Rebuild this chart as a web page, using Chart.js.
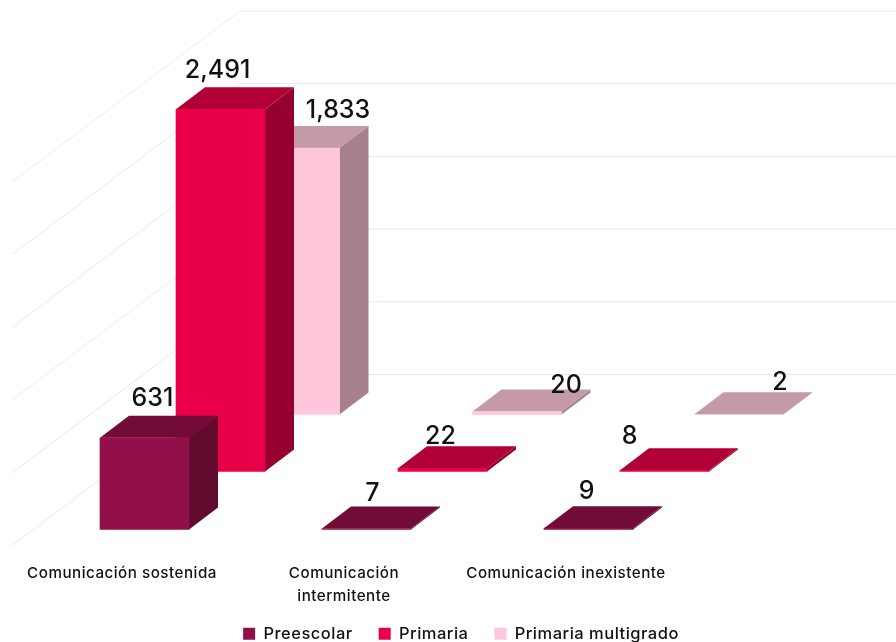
<!DOCTYPE html>
<html>
<head>
<meta charset="utf-8">
<title>Comunicación</title>
<script src="https://cdn.jsdelivr.net/npm/chart.js@4/dist/chart.umd.min.js"></script>
<style>
html, body { margin: 0; padding: 0; background: #fff; }
#wrap { width: 896px; height: 642px; }
</style>
</head>
<body>
<div id="wrap"><canvas id="chart" width="896" height="642"></canvas></div>
<script>
var categories = [['Comunicación sostenida'], ['Comunicación', 'intermitente'], ['Comunicación inexistente']];
var preescolar = [631, 7, 9];
var primaria = [2491, 22, 8];
var multigrado = [1833, 20, 2];
var valueTicks = [0, 500, 1000, 1500, 2000, 2500];

// front, top and side colour for each series
var faces = [
    { front: '#92104a', top: '#720c36', side: '#620a2e' },
    { front: '#ea0048', top: '#b00036', side: '#950030' },
    { front: '#ffc6dc', top: '#c49aa6', side: '#a6808c' }
];
var depthX = 29, depthY = 22;
var rowX = [22.5, 98.5, 173], rowY = [0, 58, 115];
// hand placed value labels, relative to the top of the front face
var labelNudge = [
    [[8, -39], [6, -35], [-2, -37]],
    [[-3, -39], [-2, -32], [-35, -34]],
    [[43, -37], [49, -26], [41, -32]]
];
var font = 'Inter';

class Bar3dController extends Chart.BarController {
    updateElements(bars, start, count, mode) {
        super.updateElements(bars, start, count, mode);
        var row = this.index;
        bars.forEach(function(bar) {
            bar.x += rowX[row];
            bar.y -= rowY[row];
            bar.base -= rowY[row];
        });
    }
    draw() {
        var ctx = this.chart.ctx;
        var face = faces[this.index];
        this.getMeta().data.forEach(function(bar) {
            var l = bar.x - bar.width / 2, r = bar.x + bar.width / 2;
            ctx.fillStyle = face.side;
            ctx.beginPath();
            ctx.moveTo(r, bar.y);
            ctx.lineTo(r + depthX, bar.y - depthY);
            ctx.lineTo(r + depthX, bar.base - depthY);
            ctx.lineTo(r, bar.base);
            ctx.closePath();
            ctx.fill();
            ctx.fillStyle = face.top;
            ctx.beginPath();
            ctx.moveTo(l, bar.y);
            ctx.lineTo(l + depthX, bar.y - depthY);
            ctx.lineTo(r + depthX, bar.y - depthY);
            ctx.lineTo(r, bar.y);
            ctx.closePath();
            ctx.fill();
        });
        super.draw();
    }
}
Bar3dController.id = 'bar3d';
Bar3dController.defaults = Chart.BarController.defaults;
Chart.register(Bar3dController);

var wallPlugin = {
    id: 'wall',
    beforeUpdate: function(chart) {
        // the reference font runs wider than Inter
        chart.ctx.letterSpacing = '0.5px';
    },
    afterLayout: function(chart) {
        // legend is centred on the page, not on the plot
        chart.legend.left += 5;
        chart.legend.right += 229;
        chart.legend.top += 10;
        chart.legend.bottom += 10;
        // tick labels are clipped to the scale box, let them run into the legend band
        chart.scales.x.bottom += 40;
    },
    beforeDatasetsDraw: function(chart) {
        var ctx = chart.ctx, y = chart.scales.y;
        ctx.save();
        ctx.strokeStyle = '#e9e9e9';
        ctx.lineWidth = 1;
        y.ticks.forEach(function(t) {
            var back = y.getPixelForValue(t.value) - 155;
            ctx.beginPath();
            ctx.moveTo(896, back);
            ctx.lineTo(240, back);
            ctx.lineTo(12, back + 171);
            ctx.stroke();
        });
        ctx.restore();
    },
    afterDatasetsDraw: function(chart) {
        var ctx = chart.ctx;
        ctx.save();
        ctx.letterSpacing = '0px';
        ctx.fillStyle = '#111';
        ctx.font = '500 25px ' + font;
        ctx.textAlign = 'center';
        ctx.textBaseline = 'middle';
        chart.data.datasets.forEach(function(ds, row) {
            chart.getDatasetMeta(row).data.forEach(function(bar, i) {
                var n = labelNudge[row][i];
                ctx.fillText(ds.data[i].toLocaleString('en-US'), bar.x + n[0], bar.y + n[1]);
            });
        });
        ctx.restore();
    }
};

var chart = new Chart(document.getElementById('chart'), {
    type: 'bar3d',
    data: {
        labels: categories,
        datasets: [
            { label: 'Preescolar', data: preescolar, backgroundColor: faces[0].front },
            { label: 'Primaria', data: primaria, backgroundColor: faces[1].front },
            { label: 'Primaria multigrado', data: multigrado, backgroundColor: faces[2].front }
        ]
    },
    plugins: [wallPlugin],
    options: {
        responsive: false,
        animation: false,
        clip: false,
        barThickness: 89,
        grouped: false,
        layout: { padding: { left: 11, right: 219, top: 166, bottom: 0 } },
        plugins: {
            tooltip: { enabled: false },
            legend: {
                position: 'bottom',
                labels: {
                    boxWidth: 12,
                    boxHeight: 12,
                    padding: 26,
                    color: '#111',
                    font: { family: font, size: 16.5, weight: '500' }
                }
            }
        },
        scales: {
            x: {
                grid: { display: false },
                border: { display: false },
                ticks: {
                    autoSkip: false,
                    maxRotation: 0,
                    minRotation: 0,
                    padding: 24,
                    color: '#111',
                    font: { family: font, size: 15.2, weight: '500', lineHeight: 1.55 }
                },
                afterFit: function(scale) { scale.height = 60; }
            },
            y: {
                min: 0,
                max: 2500,
                afterBuildTicks: function(scale) {
                    scale.ticks = valueTicks.map(function(v) { return { value: v }; });
                },
                afterFit: function(scale) { scale.width = 0; },
                grid: { display: false },
                border: { display: false },
                ticks: { display: false }
            }
        }
    }
});
</script>
</body>
</html>
